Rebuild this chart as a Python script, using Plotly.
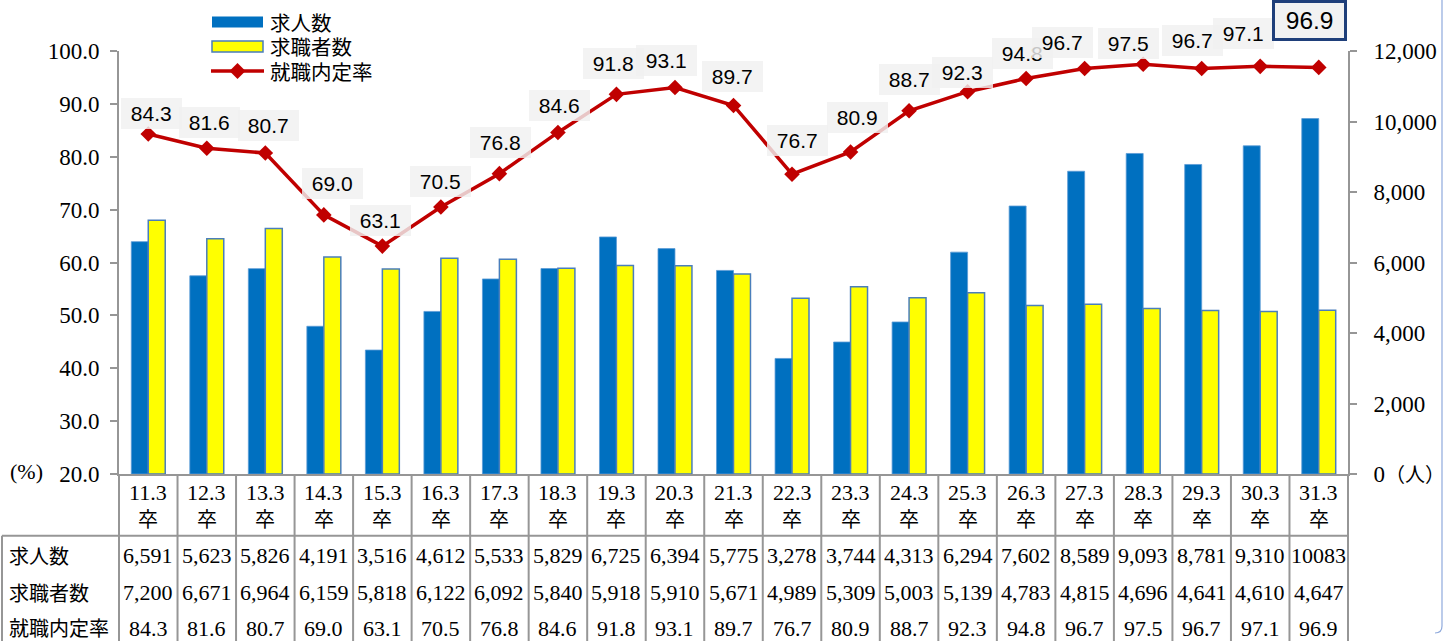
import plotly.graph_objects as go

# ---------------- data ----------------
categories = ["11.3", "12.3", "13.3", "14.3", "15.3", "16.3", "17.3", "18.3", "19.3", "20.3", "21.3",
              "22.3", "23.3", "24.3", "25.3", "26.3", "27.3", "28.3", "29.3", "30.3", "31.3"]
job_offers = [6591, 5623, 5826, 4191, 3516, 4612, 5533, 5829, 6725, 6394, 5775,
              3278, 3744, 4313, 6294, 7602, 8589, 9093, 8781, 9310, 10083]
job_seekers = [7200, 6671, 6964, 6159, 5818, 6122, 6092, 5840, 5918, 5910, 5671,
               4989, 5309, 5003, 5139, 4783, 4815, 4696, 4641, 4610, 4647]
offer_rate = [84.3, 81.6, 80.7, 69.0, 63.1, 70.5, 76.8, 84.6, 91.8, 93.1, 89.7,
              76.7, 80.9, 88.7, 92.3, 94.8, 96.7, 97.5, 96.7, 97.1, 96.9]
series_names = ["求人数", "求職者数", "就職内定率"]
cat_suffix = "卒"
right_unit = "（人）"
left_ticks = [20, 30, 40, 50, 60, 70, 80, 90, 100]
right_ticks = [0, 2000, 4000, 6000, 8000, 10000, 12000]

# ---------------- layout constants (pixels) ----------------
W, H = 1448, 641
PL, PR, PT, PB = 119, 1348, 51, 474
PW, PH = PR - PL, PB - PT

def px_x(px):
    return (px - PL) / PW

def px_y(py):
    return (PB - py) / PH

BLUE = "#0070C0"
YELLOW = "#FFFF00"
YEL_LINE = "#4A7EBB"
RED = "#C00000"
GRID = "#969696"
SERIF = "Liberation Serif, Noto Sans CJK JP"
CJK = "Noto Sans CJK JP"
SANS = "Liberation Sans, Arial"

# label offsets (dx, dy in px, dy positive = up) for the rate labels
label_offsets = [(3, 21), (3, 26), (3, 28), (9, 31), (-2, 26), (0, 25), (1, 31), (2, 27), (-3, 31),
                 (-8, 27), (-1, 29), (5, 34), (7, 34), (0, 31), (-5, 19), (-4, 25), (-22, 26),
                 (-15, 21), (-9, 28), (-17, 33), (-9, 47)]

fig = go.Figure()
fig.add_trace(go.Bar(x=categories, y=job_offers, name=series_names[0], yaxis="y",
                     marker=dict(color=BLUE, line=dict(color="#5B9BD5", width=0.8)),
                     showlegend=False))
fig.add_trace(go.Bar(x=categories, y=job_seekers, name=series_names[1], yaxis="y",
                     marker=dict(color=YELLOW, line=dict(color=YEL_LINE, width=1.5)),
                     showlegend=False))
fig.add_trace(go.Scatter(x=categories, y=offer_rate, name=series_names[2], yaxis="y2",
                         mode="lines+markers", line=dict(color=RED, width=3.5),
                         marker=dict(symbol="diamond", size=12, color=RED),
                         showlegend=False))

annotations = []
n = len(categories)
# rate labels (x given as category index on the category axis)
for i, v in enumerate(offer_rate):
    dx, dy = label_offsets[i]
    last = i == n - 1
    annotations.append(dict(
        x=i, y=v, xref="x", yref="y2", xshift=dx, yshift=dy, showarrow=False,
        text=f"\u00a0{v:.1f}\u00a0", font=dict(family=SANS, size=24.5 if last else 21, color="#000"),
        bgcolor="#F2F2F2" if last else "rgba(240,240,240,0.82)",
        bordercolor="#1F3F7A" if last else "rgba(0,0,0,0)",
        borderwidth=3 if last else 0, borderpad=4))

# category labels and table
def fmt_count(v):
    return f"{v:,}" if v < 10000 else str(v)

for i, (c, a, b, r) in enumerate(zip(categories, job_offers, job_seekers, offer_rate)):
    for txt, py, fnt in [(c, 492.5, SERIF), (cat_suffix, 518, CJK)]:
        annotations.append(dict(x=i, y=px_y(py), xref="x", yref="paper", showarrow=False,
                                text=txt, font=dict(family=fnt, size=22 if fnt == SERIF else 20, color="#000"),
                                xanchor="center", yanchor="middle"))
    for txt, py in [(fmt_count(a), 555), (fmt_count(b), 592.5), (f"{r:.1f}", 628)]:
        annotations.append(dict(x=i, y=px_y(py), xref="x", yref="paper", showarrow=False,
                                text=txt, font=dict(family=SERIF, size=22, color="#000"),
                                xanchor="center", yanchor="middle"))

for name, py in zip(series_names, [555, 592.5, 627]):
    annotations.append(dict(x=px_x(7), y=px_y(py), xref="paper", yref="paper", showarrow=False,
                            text=name, font=dict(family=CJK, size=20, color="#000"),
                            xanchor="left", yanchor="middle"))

# (%) unit label
annotations.append(dict(x=px_x(26.5), y=px_y(471), xref="paper", yref="paper", showarrow=False,
                        text="(%)", font=dict(family=SERIF, size=22, color="#000"),
                        xanchor="center", yanchor="middle"))

# manual legend
leg_x0, leg_x1 = 212, 263
leg_rows = [22, 46.5, 71]
for name, py in zip(series_names, leg_rows):
    annotations.append(dict(x=px_x(268), y=px_y(py), xref="paper", yref="paper", showarrow=False,
                            text=name, font=dict(family=CJK, size=20.5, color="#000"),
                            xanchor="left", yanchor="middle"))

shapes = []
shapes.append(dict(type="rect", xref="paper", yref="paper", x0=px_x(leg_x0), x1=px_x(leg_x1),
                   y0=px_y(leg_rows[0] - 5.5), y1=px_y(leg_rows[0] + 5.5),
                   fillcolor=BLUE, line=dict(width=0)))
shapes.append(dict(type="rect", xref="paper", yref="paper", x0=px_x(leg_x0), x1=px_x(leg_x1),
                   y0=px_y(leg_rows[1] - 5.5), y1=px_y(leg_rows[1] + 5.5),
                   fillcolor=YELLOW, line=dict(width=1.5, color=YEL_LINE)))
shapes.append(dict(type="line", xref="paper", yref="paper", x0=px_x(leg_x0 - 1), x1=px_x(leg_x1 + 1),
                   y0=px_y(leg_rows[2]), y1=px_y(leg_rows[2]), line=dict(color=RED, width=3.5)))
cx, cy, hd = (leg_x0 + leg_x1) / 2, leg_rows[2], 8
shapes.append(dict(type="path", xref="paper", yref="paper",
                   path=(f"M {px_x(cx - hd)},{px_y(cy)} L {px_x(cx)},{px_y(cy - hd)} "
                         f"L {px_x(cx + hd)},{px_y(cy)} L {px_x(cx)},{px_y(cy + hd)} Z"),
                   fillcolor=RED, line=dict(width=0)))

# table grid
bottom = px_y(H + 5)
for k in range(n + 1):
    shapes.append(dict(type="line", xref="paper", yref="paper", x0=k / n, x1=k / n,
                       y0=0, y1=bottom, line=dict(color=GRID, width=2)))
shapes.append(dict(type="line", xref="paper", yref="paper", x0=px_x(2), x1=1,
                   y0=px_y(535.7), y1=px_y(535.7), line=dict(color=GRID, width=2)))
shapes.append(dict(type="line", xref="paper", yref="paper", x0=px_x(2), x1=px_x(2),
                   y0=px_y(535.7), y1=bottom, line=dict(color=GRID, width=2)))

# chart frame edge on the right
shapes.append(dict(type="path", xref="paper", yref="paper",
                   path=(f"M {px_x(1442)},{px_y(-2)} L {px_x(1442)},{px_y(626)} "
                         f"Q {px_x(1442)},{px_y(633)} {px_x(1435)},{px_y(633)}"),
                   line=dict(color="#8FAADC", width=1.2)))

axis_common = dict(showgrid=False, zeroline=False, showline=True, linecolor=GRID, linewidth=2,
                   ticks="outside", ticklen=7, tickwidth=1.5, tickcolor=GRID,
                   tickfont=dict(family=SERIF, size=23, color="#000"))

right_text = [f"{t:,}" if t else f"{t}<span style='font-size:20px'>{right_unit}</span>"
              for t in right_ticks]

fig.update_layout(
    width=W, height=H, autosize=False,
    margin=dict(l=PL, r=W - PR, t=PT, b=H - PB, pad=0, autoexpand=False),
    paper_bgcolor="white", plot_bgcolor="white",
    font=dict(family=SERIF, color="#000"),
    barmode="group", bargap=0.42, bargroupgap=0,
    xaxis=dict(type="category", range=[-0.5, n - 0.5], showgrid=False, zeroline=False,
               showline=True, linecolor=GRID, linewidth=2, ticks="", showticklabels=False),
    yaxis=dict(side="right", range=[0, 12000], tickvals=right_ticks, ticktext=right_text,
               ticklabelstandoff=12, **axis_common),
    yaxis2=dict(side="left", overlaying="y", range=[20, 100], tickvals=left_ticks,
                ticktext=[f"{t:.1f}" for t in left_ticks], ticklabelstandoff=6, **axis_common),
    annotations=annotations, shapes=shapes,
)

fig.write_html("out.html")
